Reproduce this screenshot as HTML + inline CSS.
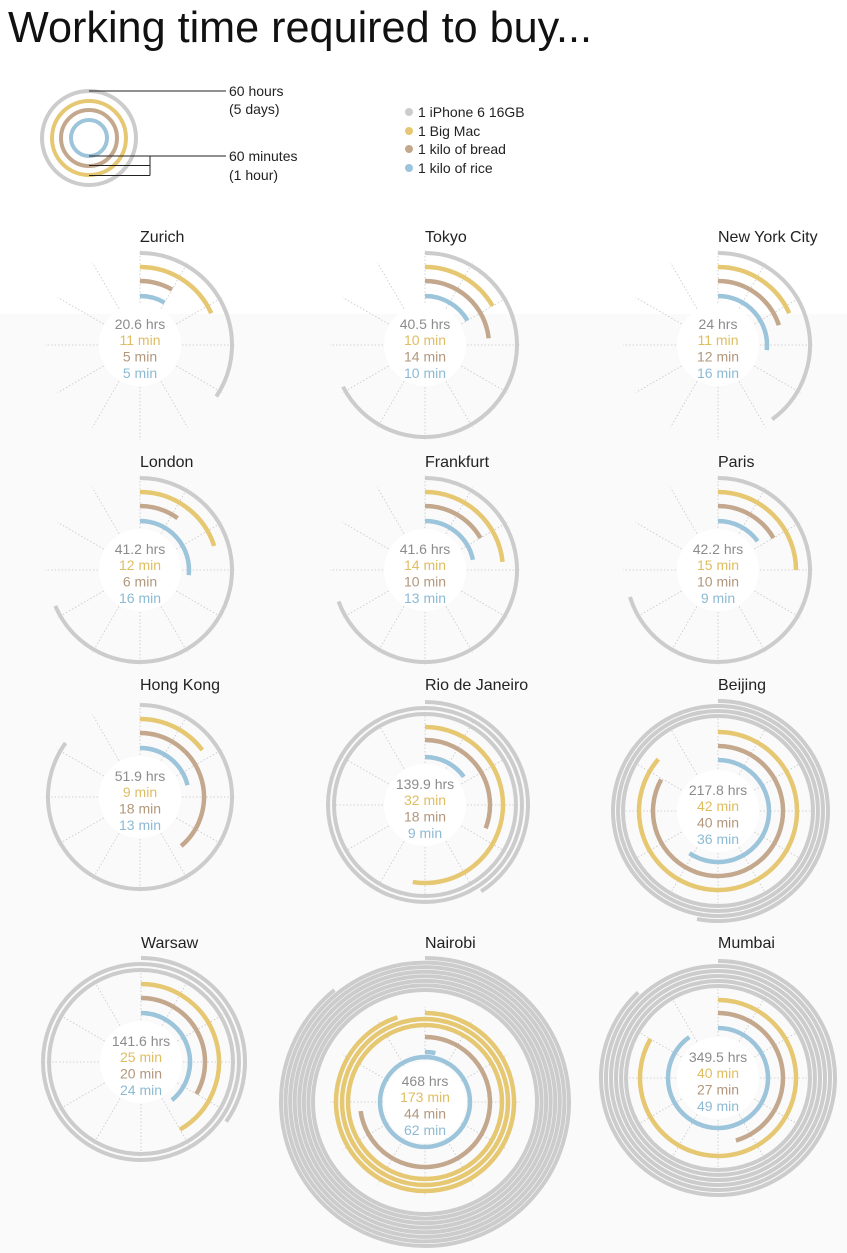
<!DOCTYPE html>
<html><head><meta charset="utf-8">
<style>
html,body{margin:0;padding:0;background:#fff;}
body{width:847px;height:1253px;overflow:hidden;position:relative;}
svg{position:absolute;left:0;top:0;}
text{font-family:"Liberation Sans",sans-serif;}
</style></head>
<body>
<svg id="s" width="847" height="1253" viewBox="0 0 847 1253" xmlns="http://www.w3.org/2000/svg">
<rect x="0" y="0" width="847" height="1253" fill="#ffffff"/>
<rect x="0" y="314" width="847" height="939" fill="#fafafa"/>
<text x="8" y="42" font-size="44" fill="#111" textLength="584" lengthAdjust="spacingAndGlyphs">Working time required to buy...</text>
<g fill="none" stroke-width="4">
<circle cx="89" cy="138" r="47" stroke="#cccccc"/>
<circle cx="89" cy="138" r="37" stroke="#e6c873"/>
<circle cx="89" cy="138" r="28" stroke="#c4a88e"/>
<circle cx="89" cy="138" r="18" stroke="#9cc4da"/>
</g>
<g stroke="#222" stroke-width="1" fill="none">
<line x1="89" y1="91" x2="226" y2="91"/>
<line x1="89" y1="156" x2="226" y2="156"/>
<line x1="89" y1="165.5" x2="150" y2="165.5"/>
<line x1="89" y1="175.5" x2="150" y2="175.5"/>
<line x1="150" y1="156" x2="150" y2="175.5"/>
</g>
<g font-size="14" fill="#222">
<text x="229" y="96">60 hours</text>
<text x="229" y="114">(5 days)</text>
<text x="229" y="161">60 minutes</text>
<text x="229" y="180">(1 hour)</text>
<circle cx="409" cy="112" r="4" fill="#cccccc"/>
<circle cx="409" cy="131" r="4" fill="#e6c873"/>
<circle cx="409" cy="149" r="4" fill="#c4a88e"/>
<circle cx="409" cy="168" r="4" fill="#9cc4da"/>
<text x="418" y="117">1 iPhone 6 16GB</text>
<text x="418" y="136">1 Big Mac</text>
<text x="418" y="154">1 kilo of bread</text>
<text x="418" y="173">1 kilo of rice</text>
</g>
<g id="charts"></g>
</svg>
<script>
var G='#cccccc',Y='#e6c873',B='#c4a88e',L='#9cc4da';
function rg(a,b,n,last){var r=[];for(var i=0;i<n;i++){r.push([G,a+(b-a)*i/(n-1),i==n-1?last:360]);}return r;}
var charts=[
{n:'Zurich',x:140,y:345,t:['20.6 hrs','11 min','5 min','5 min'],a:[[G,92,124],[Y,78,66],[B,64,30],[L,49,30]]},
{n:'Tokyo',x:425,y:345,t:['40.5 hrs','10 min','14 min','10 min'],a:[[G,92,243],[Y,78,60],[B,64,84],[L,49,60]]},
{n:'New York City',x:718,y:345,t:['24 hrs','11 min','12 min','16 min'],a:[[G,92,144],[Y,78,66],[B,64,72],[L,49,96]]},
{n:'London',x:140,y:570,t:['41.2 hrs','12 min','6 min','16 min'],a:[[G,92,247],[Y,78,72],[B,64,36],[L,49,96]]},
{n:'Frankfurt',x:425,y:570,t:['41.6 hrs','14 min','10 min','13 min'],a:[[G,92,250],[Y,78,84],[B,64,60],[L,49,78]]},
{n:'Paris',x:718,y:570,t:['42.2 hrs','15 min','10 min','9 min'],a:[[G,92,253],[Y,78,90],[B,64,60],[L,49,54]]},
{n:'Hong Kong',x:140,y:797,t:['51.9 hrs','9 min','18 min','13 min'],a:[[G,92,306],[Y,78,53],[B,64,140],[L,49,76]]},
{n:'Rio de Janeiro',x:425,y:805,t:['139.9 hrs','32 min','18 min','9 min'],a:rg(91,103,3,147).concat([[Y,78,189],[B,65,111],[L,48,54]])},
{n:'Beijing',x:718,y:811,t:['217.8 hrs','42 min','40 min','36 min'],a:rg(95,110,4,191).concat([[Y,79,311],[B,65,299],[L,51,214]])},
{n:'Warsaw',x:141,y:1062,t:['141.6 hrs','25 min','20 min','24 min'],a:rg(92,104,3,125).concat([[Y,78,150],[B,64,120],[L,49,141]])},
{n:'Nairobi',x:425,y:1102,t:['468 hrs','173 min','44 min','62 min'],a:rg(112,144,8,321).concat([[Y,77,360],[Y,83,360],[Y,89,342],[B,65,262],[L,45,360],[L,50,12]])},
{n:'Mumbai',x:718,y:1078,t:['349.5 hrs','40 min','27 min','49 min'],a:rg(92,117,6,317).concat([[Y,78,300],[B,65,164],[L,50,325]])}
];
var tc=['#8c8c8c','#dfbd62','#b2977c','#8dbad3'];
var h='';
charts.forEach(function(c){
  var tb=c.y-103; if(c.n=='Hong Kong')tb=c.y-107; if(c.n=='Rio de Janeiro')tb=c.y-115; if(c.n=='Beijing')tb=c.y-121; if(c.n=='Warsaw')tb=c.y-114; if(c.n=='Nairobi')tb=c.y-154; if(c.n=='Mumbai')tb=c.y-130;
  h+='<text x="'+c.x+'" y="'+tb+'" font-size="16" fill="#222">'+c.n+'</text>';
  for(var i=0;i<12;i++){var a=i*Math.PI/6,s=Math.sin(a),co=-Math.cos(a);
    h+='<line x1="'+(c.x+42*s)+'" y1="'+(c.y+42*co)+'" x2="'+(c.x+95*s)+'" y2="'+(c.y+95*co)+'" stroke="#c8c8c8" stroke-width="0.8" stroke-dasharray="1.5,2"/>';}
  h+='<circle cx="'+c.x+'" cy="'+c.y+'" r="41" fill="#ffffff"/>';
  c.a.forEach(function(a){
    var col=a[0],r=a[1],d=a[2],sw=(col==G?4:4.5);
    if(d>=360){h+='<circle cx="'+c.x+'" cy="'+c.y+'" r="'+r+'" fill="none" stroke="'+col+'" stroke-width="'+sw+'"/>';}
    else{var rad=d*Math.PI/180,ex=c.x+r*Math.sin(rad),ey=c.y-r*Math.cos(rad);
      h+='<path d="M'+c.x+' '+(c.y-r)+' A'+r+' '+r+' 0 '+(d>180?1:0)+' 1 '+ex.toFixed(2)+' '+ey.toFixed(2)+'" fill="none" stroke="'+col+'" stroke-width="'+sw+'"/>';}
  });
  var off=[-16,0,16.5,33];
  for(var k=0;k<4;k++)h+='<text x="'+c.x+'" y="'+(c.y+off[k])+'" font-size="14" fill="'+tc[k]+'" text-anchor="middle">'+c.t[k]+'</text>';
});
document.getElementById('charts').innerHTML=h;
</script>
</body></html>
